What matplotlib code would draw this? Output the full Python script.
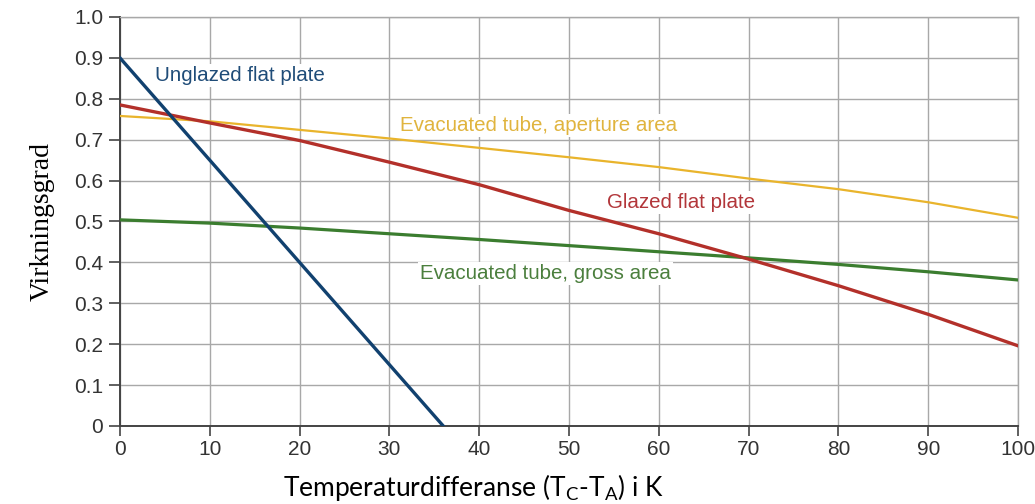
import matplotlib.pyplot as plt

# Collector efficiency vs temperature difference
temp = [0, 10, 20, 30, 40, 50, 60, 70, 80, 90, 100]
glazed = [0.785, 0.741, 0.698, 0.645, 0.590, 0.527, 0.470, 0.408, 0.343, 0.273, 0.196]
tube_aperture = [0.758, 0.745, 0.724, 0.703, 0.680, 0.657, 0.633, 0.605, 0.579, 0.547, 0.509]
tube_gross = [0.504, 0.496, 0.484, 0.470, 0.456, 0.441, 0.426, 0.411, 0.395, 0.377, 0.357]
unglazed_temp = [0, 36]
unglazed = [0.90, 0.0]

y_ticks = [0, 0.1, 0.2, 0.3, 0.4, 0.5, 0.6, 0.7, 0.8, 0.9, 1.0]
y_labels = ["0", "0.1", "0.2", "0.3", "0.4", "0.5", "0.6", "0.7", "0.8", "0.9", "1.0"]
x_ticks = [0, 10, 20, 30, 40, 50, 60, 70, 80, 90, 100]

plt.rcParams["mathtext.fontset"] = "custom"
plt.rcParams["mathtext.rm"] = "Lato"

fig = plt.figure(figsize=(10.35, 5.04), dpi=100)
ax = fig.add_axes([0.1159, 0.1548, 0.8677, 0.8115])

ax.plot(temp, tube_aperture, color="#e9b42c", lw=1.6, zorder=3)
ax.plot(temp, tube_gross, color="#3b7d2f", lw=2.3, zorder=3)
ax.plot(temp, glazed, color="#b3302a", lw=2.4, zorder=4)
ax.plot(unglazed_temp, unglazed, color="#11416f", lw=2.4, zorder=5)

box = dict(facecolor="white", edgecolor="none", pad=1.5)
font = dict(family="Liberation Sans", fontsize=14.8)
ax.text(3.9, 0.856, "Unglazed flat plate", color="#1f4c78", va="center", bbox=box, zorder=2, **font)
ax.text(31.2, 0.734, "Evacuated tube, aperture area", color="#e0b43e", va="center", bbox=box, zorder=2, **font)
ax.text(54.2, 0.546, "Glazed flat plate", color="#b2363a", va="center", bbox=box, zorder=2, **font)
ax.text(33.4, 0.373, "Evacuated tube, gross area", color="#4b7f3d", va="center", bbox=box, zorder=2, **font)

ax.set_xlim(0, 100)
ax.set_ylim(0, 1.0)
ax.set_xticks(x_ticks)
ax.set_yticks(y_ticks)
ax.set_yticklabels(y_labels)
ax.grid(True, color="#a8a8a8", lw=1.0, zorder=0)
ax.set_axisbelow(True)

for side in ["top", "right"]:
    ax.spines[side].set_color("#a8a8a8")
    ax.spines[side].set_linewidth(1.0)
for side in ["left", "bottom"]:
    ax.spines[side].set_color("#444444")
    ax.spines[side].set_linewidth(1.4)

ax.tick_params(axis="both", direction="out", color="#444444", width=1.2,
               labelcolor="#333333", labelsize=15)
ax.tick_params(axis="y", length=8, pad=4)
ax.tick_params(axis="x", length=7, pad=3)
for lbl in ax.get_xticklabels() + ax.get_yticklabels():
    lbl.set_family("Liberation Sans")

ax.set_ylabel("Virkningsgrad", family="Liberation Serif", fontsize=20, labelpad=14)
ax.set_xlabel(r"Temperaturdifferanse (T$_\mathrm{C}$-T$_\mathrm{A}$) i K",
              family="Lato", fontsize=19)
ax.xaxis.set_label_coords(0.393, -0.112)

fig.savefig("out.png", dpi=100)
